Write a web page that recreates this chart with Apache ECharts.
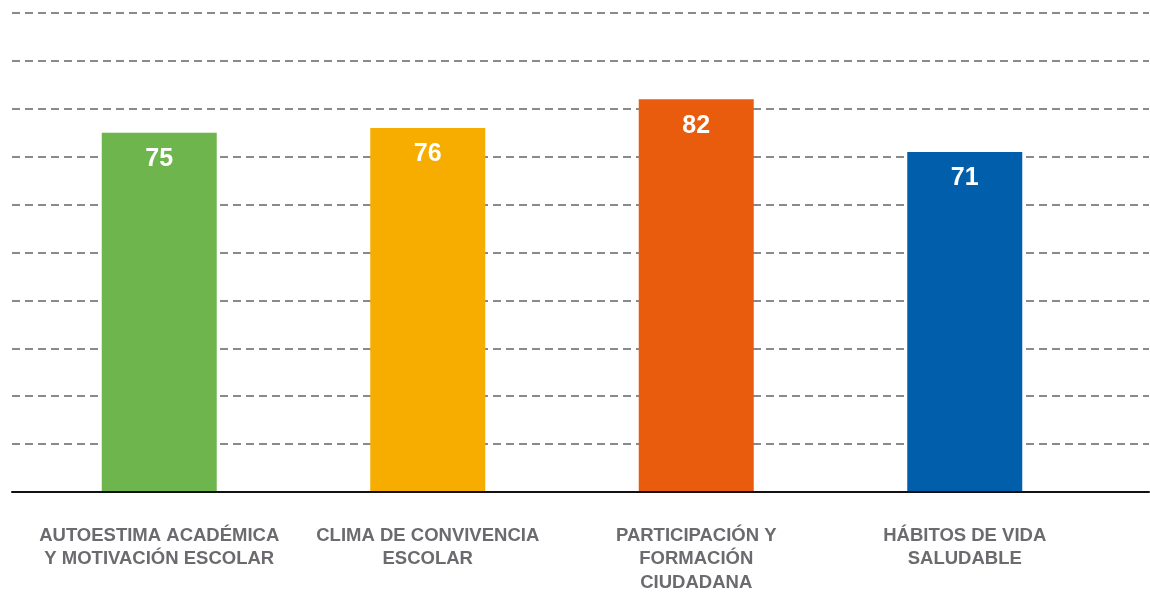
<!DOCTYPE html>
<html>
<head>
<meta charset="utf-8">
<script src="https://cdn.jsdelivr.net/npm/echarts@6/dist/echarts.min.js"></script>
<style>html,body{margin:0;padding:0;background:#fff}#c{width:1150px;height:592px}</style>
</head>
<body>
<div id="c"></div>
<script>
const categories = [
  "AUTOESTIMA ACADÉMICA\nY MOTIVACIÓN ESCOLAR",
  "CLIMA DE CONVIVENCIA\nESCOLAR",
  "PARTICIPACIÓN Y\nFORMACIÓN\nCIUDADANA",
  "HÁBITOS DE VIDA\nSALUDABLE"
];
const values = [75, 76, 82, 71];
const yTicks = [0, 10, 20, 30, 40, 50, 60, 70, 80, 90, 100];

const palette = ["#6fb54d", "#f7ac00", "#ea5c0d", "#005eab"];
const fontFam = "'Liberation Sans', Arial, Helvetica, sans-serif";

const chart = echarts.init(document.getElementById('c'), null, {renderer: 'canvas'});
chart.setOption({
  animation: false,
  grid: [
    {left: 12, right: 1, top: 13, bottom: 100, containLabel: false, outerBoundsMode: 'none'},
    {left: 25, right: 51, top: 13, bottom: 100, containLabel: false, outerBoundsMode: 'none'}
  ],
  xAxis: [
    {gridIndex: 0, type: 'value', min: 0, max: 1, axisLabel: {show: false}, axisTick: {show: false},
     splitLine: {show: false}, axisLine: {show: true, lineStyle: {color: '#111', width: 2}}, z: 5},
    {gridIndex: 1, type: 'category', data: categories, axisLine: {show: false}, axisTick: {show: false},
     axisLabel: {interval: 0, margin: 32, color: '#6b6b6f', fontWeight: 'bold', fontSize: 18.5,
       lineHeight: 23.5, fontFamily: fontFam, align: 'center'}}
  ],
  yAxis: [
    {gridIndex: 0, type: 'value', min: yTicks[0], max: yTicks[yTicks.length - 1], interval: yTicks[1] - yTicks[0],
     axisLabel: {show: false}, axisTick: {show: false}, axisLine: {show: false},
     splitLine: {show: true, lineStyle: {color: '#8a8a8e', width: 2, type: [8, 5]}}},
    {gridIndex: 1, type: 'value', min: yTicks[0], max: yTicks[yTicks.length - 1], show: false}
  ],
  series: [{
    type: 'bar', xAxisIndex: 1, yAxisIndex: 1, barWidth: 115, z: 3,
    data: values.map((v, i) => ({value: v, itemStyle: {color: palette[i]}})),
    label: {show: true, position: 'insideTop', distance: 14, color: '#fff', fontWeight: 'bold',
      fontSize: 25, fontFamily: fontFam}
  }]
});
</script>
</body>
</html>
